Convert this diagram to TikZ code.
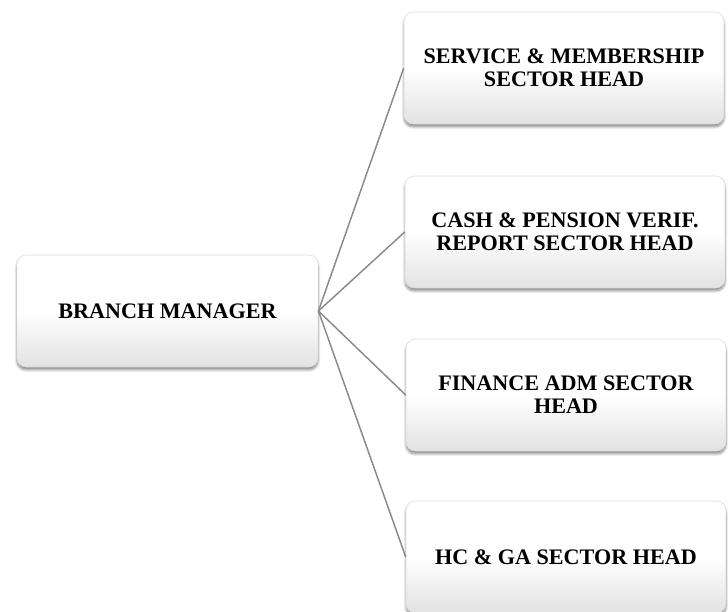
\documentclass[tikz,border=0pt]{standalone}
\usepackage{fontspec}
\setmainfont{Liberation Serif}
\usetikzlibrary{shadows.blur}
\definecolor{link-grey}{HTML}{8A8A8A}
\definecolor{edge-grey}{HTML}{D9D9D9}
\definecolor{low-grey}{HTML}{E2E2E2}

\begin{document}
\begin{tikzpicture}[x=0.75pt, y=-0.75pt,
          every node/.style={font=\fontsize{16.6}{17.4}\selectfont\bfseries},
          unitbox/.style={draw=edge-grey, line width=0.4pt, rounded corners=7pt,
              top color=white, bottom color=low-grey, middle color=white,
              align=center, minimum height=84pt, inner sep=2pt,
              blur shadow={shadow xshift=0pt, shadow yshift=-2.2pt,
                shadow blur steps=6, shadow opacity=45}},
          link/.style={draw=link-grey, line width=1.1pt}]
        % Diagram: branch manager on the left, four sector heads in a
        % column on the right, fanned out from one point.
        % Coordinates: pixels of the 728x611 picture, y down
        \useasboundingbox (0,0) rectangle (728,611);
        \node[unitbox, minimum width=226pt] (BM) at (167.5,311)
              {BRANCH MANAGER};
        \node[unitbox, minimum width=240pt] (S1) at (564,68)
              {SERVICE \& MEMBERSHIP\\SECTOR HEAD};
        \node[unitbox, minimum width=240pt] (S2) at (565,232)
              {CASH \& PENSION VERIF.\\REPORT SECTOR HEAD};
        \node[unitbox, minimum width=240pt] (S3) at (566,395)
              {FINANCE ADM SECTOR\\HEAD};
        \node[unitbox, minimum width=240pt] (S4) at (566,557)
              {HC \& GA SECTOR HEAD};
        \draw[link] (BM.east) -- (S1.west);
        \draw[link] (BM.east) -- (S2.west);
        \draw[link] (BM.east) -- (S3.west);
        \draw[link] (BM.east) -- (S4.west);
      \end{tikzpicture}
\end{document}
